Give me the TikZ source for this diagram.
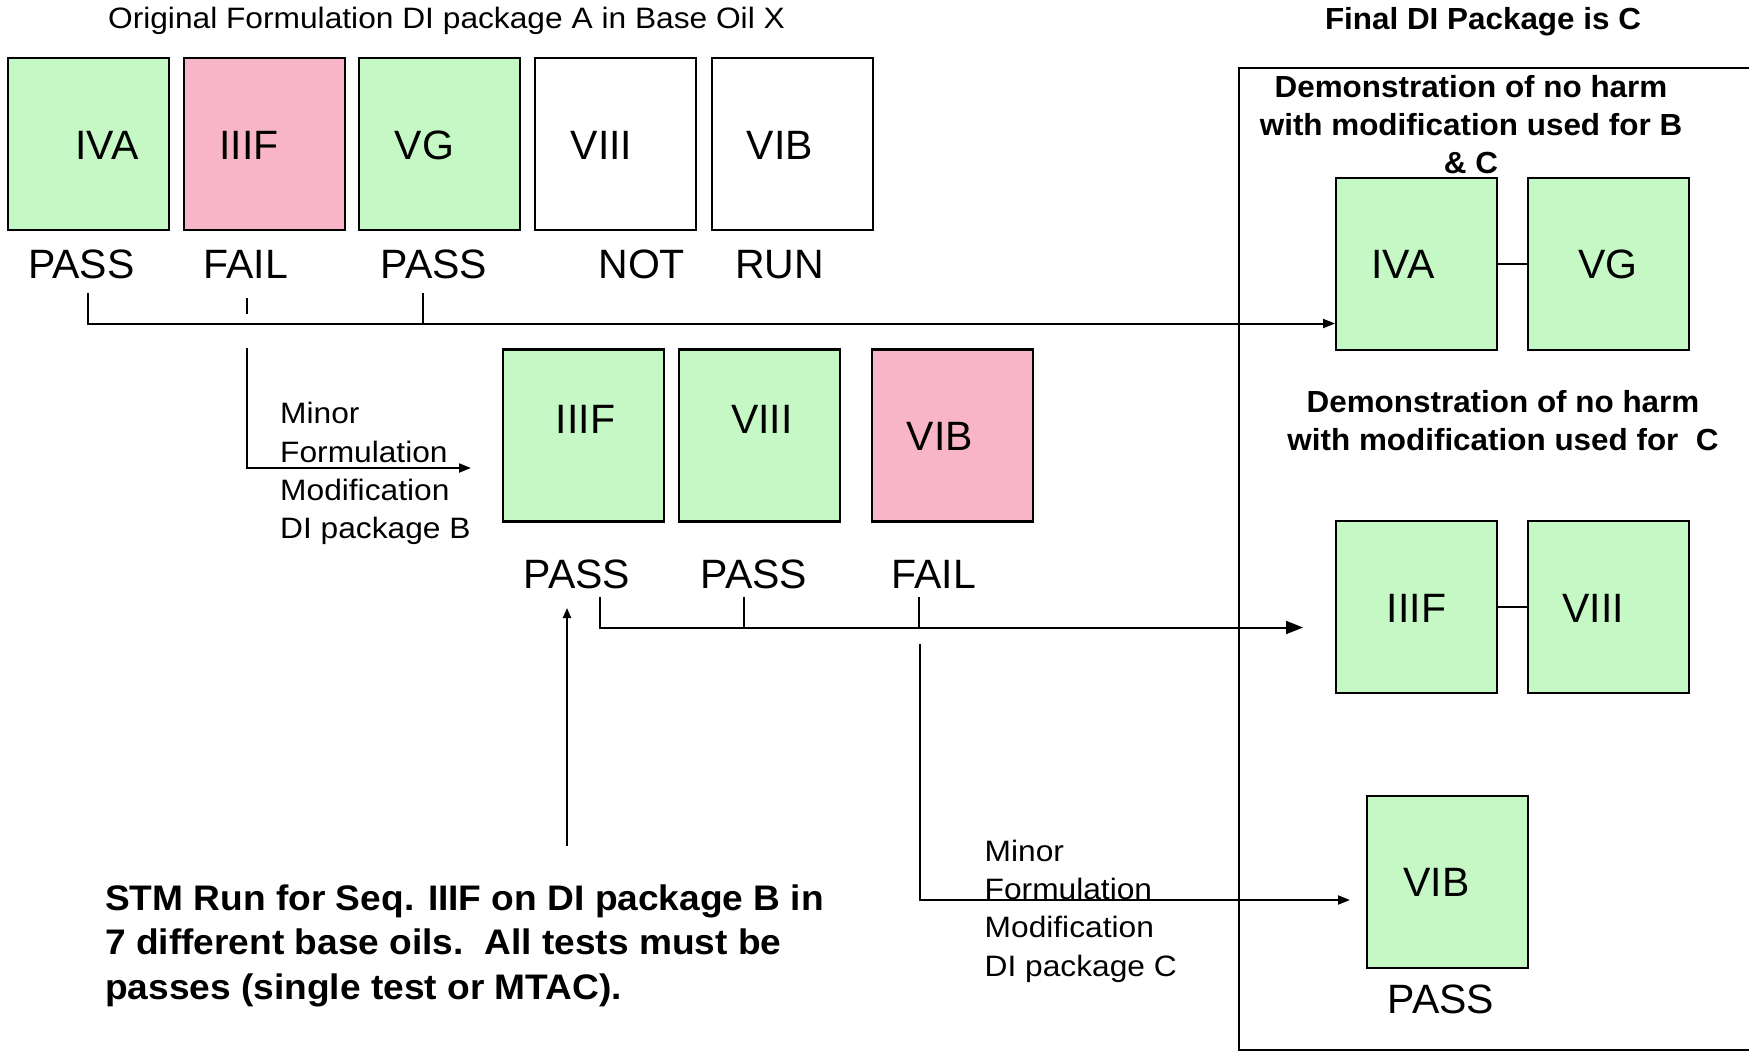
\documentclass[tikz,border=0pt]{standalone}
\usepackage{fontspec}
\setmainfont{Liberation Sans}
\newfontfamily\plainfont[FakeStretch=1.075]{Liberation Sans}
\newfontfamily\heavyfont[FakeStretch=1.03]{Liberation Sans}
\newfontfamily\notefont[FakeStretch=1.045]{Liberation Sans}
\usetikzlibrary{arrows.meta,calc}
\definecolor{passgreen}{HTML}{C6F8C6}
\definecolor{failpink}{HTML}{F9B5C8}

\tikzset{
  testbox/.style={draw=black, line width=2.2pt, minimum width=161pt, minimum height=172pt,
                  inner sep=0pt, anchor=north west},
  passbox/.style={testbox, fill=passgreen},
  failbox/.style={testbox, fill=failpink},
  openbox/.style={testbox, fill=white},
  seqlabel/.style={inner sep=0pt, anchor=base, font=\fontsize{41}{48}\selectfont},
  result/.style={seqlabel},
  note/.style={inner sep=0pt, anchor=north west, align=left,
               font=\plainfont\fontsize{29.5}{38.3}\selectfont},
  heading/.style={inner sep=0pt, align=center,
                  font=\heavyfont\bfseries\fontsize{30.5}{38}\selectfont},
  conn/.style={line width=2pt},
  arr/.style={conn, -{Triangle[length=12pt,width=9pt]}},
  smallarr/.style={conn, -{Triangle[length=10pt,width=8pt]}},
  bigarr/.style={conn, -{Triangle[length=17pt,width=13pt]}},
}

\begin{document}
\begin{tikzpicture}[x=1pt, y=-1pt]
\useasboundingbox (0,0) rectangle (1749,1052);

% ---------- original formulation, package A ----------
\node[inner sep=0pt, anchor=base, font=\plainfont\fontsize{29.5}{36}\selectfont]
  (title) at (446.5,28.5) {Original Formulation DI package A in Base Oil X};

\node[passbox] (aIVA)  at (7,57)     {};
\node[failbox] (aIIIF) at (182.5,57) {};
\node[passbox] (aVG)   at (358,57)   {};
\node[openbox] (aVIII) at (534,57)   {};
\node[openbox] (aVIB)  at (710.5,57) {};

\node[seqlabel] (laIVA)  at (107,159)   {IVA};
\node[seqlabel] (laIIIF) at (249,159)   {IIIF};
\node[seqlabel] (laVG)   at (424.5,159) {VG};
\node[seqlabel] (laVIII) at (601.5,159) {VIII};
\node[seqlabel] (laVIB)  at (780,159)   {VIB};

\node[result] (raIVA)  at (81.5,278)  {PASS};
\node[result] (raIIIF) at (246,278)   {FAIL};
\node[result] (raVG)   at (434,278)   {PASS};
\node[result] (raVIII) at (641.7,278) {NOT};
\node[result] (raVIB)  at (779.5,278) {RUN};

% ---------- modification, package B ----------
\node[passbox] (bIIIF) at (502,348.3) {};
\node[passbox] (bVIII) at (678,348.3) {};
\node[failbox] (bVIB)  at (871,348.3) {};

\node[seqlabel] (lbIIIF) at (585.5,433) {IIIF};
\node[seqlabel] (lbVIII) at (762,433)   {VIII};
\node[seqlabel] (lbVIB)  at (940,450)   {VIB};

\node[result] (rbIIIF) at (577,588) {PASS};
\node[result] (rbVIII) at (754,588) {PASS};
\node[result] (rbVIB)  at (934,588) {FAIL};

\node[note] (modB) at (280,402.2) {Minor\\Formulation\\Modification\\DI package B};

% ---------- final package C panel ----------
\draw[conn] (1749,68) -- (1239,68) -- (1239,1050) -- (1749,1050);

\node[heading, anchor=base] (final) at (1483,29.8) {Final DI Package is C};
\node[heading, anchor=north] (demoBC) at (1471,75.1)
  {Demonstration of no harm\\with modification used for B\\\& C};
\node[heading, anchor=north] (demoC) at (1503,390.1)
  {Demonstration of no harm\\with modification used for\ \ C};

\node[passbox] (cIVA)  at (1335,177)   {};
\node[passbox] (cVG)   at (1526.5,177) {};
\node[passbox] (cIIIF) at (1335,520)   {};
\node[passbox] (cVIII) at (1526.5,520) {};
\node[passbox] (cVIB)  at (1366,795)   {};

\node[seqlabel] (lcIVA)  at (1403,278)   {IVA};
\node[seqlabel] (lcVG)   at (1608,278)   {VG};
\node[seqlabel] (lcIIIF) at (1416.5,622) {IIIF};
\node[seqlabel] (lcVIII) at (1593,622)   {VIII};
\node[seqlabel] (lcVIB)  at (1436.5,896) {VIB};
\node[result]   (rcVIB)  at (1441,1013)  {PASS};

\draw[conn] (cIVA.east) -- (cVG.west);
\draw[conn] (cIIIF.east) -- (cVIII.west);

\node[note] (modC) at (984.5,839.6) {Minor\\Formulation\\Modification\\DI package C};

% ---------- STM note ----------
\node[inner sep=0pt, anchor=north west, align=left,
      font=\notefont\bfseries\fontsize{35.5}{44.3}\selectfont] (stm) at (105,884.6)
  {STM Run for Seq. IIIF on DI package B in\\7 different base oils.\ \ All tests must be\\passes (single test or MTAC).};

% ---------- connectors ----------
% package A results: passes carried over, fail leads to package B
\coordinate (ta1) at (87.5,293);
\coordinate (ta3) at (423,293);
\coordinate (ha)  at (87.5,323.5);
\draw[arr] (ta1) -- (ha) -- (ha -| cIVA.west);
\draw[conn] (ta3) -- (ta3 |- ha);
\coordinate (tf1) at (247,298);
\coordinate (tf2) at (247,314);
\draw[conn] (tf1) -- (tf2);

\coordinate (fb0) at (247,348);
\coordinate (fb1) at (247,468);
\coordinate (fbEnd) at (471,468);
\draw[arr] (fb0) -- (fb1) -- (fbEnd);

% package B results
\coordinate (tb1) at (600,597);
\coordinate (tb2) at (743.6,597);
\coordinate (tb3) at (919.3,597);
\coordinate (hb)  at (600,627.5);
\coordinate (hbEnd) at (1303,627.5);
\draw[bigarr] (tb1) -- (hb) -- (hbEnd);
\draw[conn] (tb2) -- (tb2 |- hb);
\draw[conn] (tb3) -- (tb3 |- hb);

% fail leads to package C
\coordinate (fc0) at (920,644);
\coordinate (fc1) at (920,900);
\coordinate (fcEnd) at (1350,900);
\draw[arr] (fc0) -- (fc1) -- (fcEnd);

% STM arrow
\coordinate (stm0) at (567,846);
\coordinate (stmEnd) at (567,608);
\draw[smallarr] (stm0) -- (stmEnd);
\end{tikzpicture}
\end{document}
